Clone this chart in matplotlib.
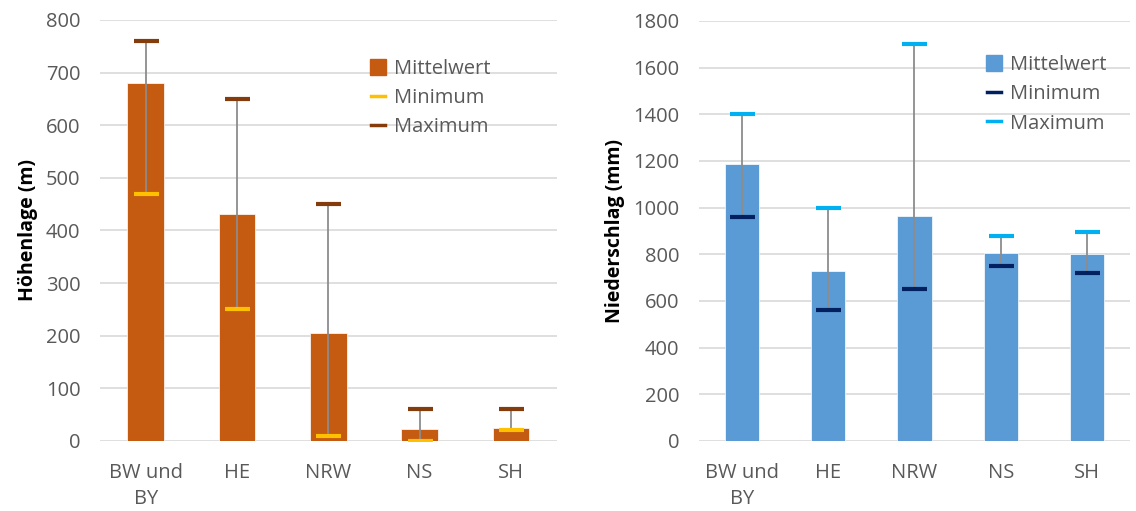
import matplotlib.pyplot as plt
from matplotlib.lines import Line2D
import numpy as np

plt.rcParams['font.family'] = ['Open Sans', 'DejaVu Sans']

regions = ["BW und\nBY", "HE", "NRW", "NS", "SH"]

hoehe_mean = [680, 432, 205, 22, 25]
hoehe_min = [470, 250, 10, 0, 20]
hoehe_max = [760, 650, 450, 60, 60]

nieder_mean = [1185, 730, 965, 805, 800]
nieder_min = [960, 560, 650, 750, 720]
nieder_max = [1400, 1000, 1700, 880, 895]

GRAY = "#595959"


def panel(ax, mean, vmin, vmax, c_mean, c_min, c_max, ylabel, ylim, ystep, leg_pos):
    x = np.arange(len(regions))
    ax.bar(x, mean, width=0.4, color=c_mean, edgecolor="white", linewidth=0.5, zorder=2)
    # min..max range with short caps
    ax.vlines(x, vmin, vmax, color="#8c8c8c", linewidth=1.3, zorder=3)
    ax.plot(x, vmin, linestyle="none", marker="_", markersize=18, mew=3, color=c_min, zorder=4)
    ax.plot(x, vmax, linestyle="none", marker="_", markersize=18, mew=3, color=c_max, zorder=4)

    ax.set_xlim(-0.5, len(regions) - 0.5)
    ax.set_ylim(*ylim)
    ax.set_yticks(np.arange(ylim[0], ylim[1] + 1, ystep))
    ax.set_xticks(x)
    ax.set_xticklabels(regions, linespacing=1.4)
    ax.yaxis.grid(True, color="#d9d9d9", linewidth=1.2, zorder=0)
    ax.set_axisbelow(True)
    for s in ax.spines.values():
        s.set_visible(False)
    ax.tick_params(length=0, labelsize=14.5, colors=GRAY)
    ax.tick_params(axis="y", pad=14)
    ax.tick_params(axis="x", pad=16)
    ax.set_ylabel(ylabel, fontsize=14, fontweight="bold", labelpad=6)

    handles = [
        Line2D([], [], linestyle="none", marker="s", markersize=11, color=c_mean),
        Line2D([], [], color=c_min, linewidth=2.5),
        Line2D([], [], color=c_max, linewidth=2.5),
    ]
    leg = ax.legend(handles, ["Mittelwert", "Minimum", "Maximum"], loc="upper left",
                    bbox_to_anchor=leg_pos, frameon=False, fontsize=14.5,
                    handlelength=0.7, handletextpad=0.45, labelspacing=0.45,
                    borderpad=0, borderaxespad=0)
    for t in leg.get_texts():
        t.set_color(GRAY)


fig = plt.figure(figsize=(11.36, 5.11), dpi=100)
ax1 = fig.add_axes([0.088, 0.137, 0.402, 0.824])
ax2 = fig.add_axes([0.615, 0.137, 0.38, 0.822])

panel(ax1, hoehe_mean, hoehe_min, hoehe_max, "#C55A11", "#FFC000", "#843C0C",
      "Höhenlage (m)", (0, 800), 100, (0.593, 0.908))
panel(ax2, nieder_mean, nieder_min, nieder_max, "#5B9BD5", "#002060", "#00B0F0",
      "Niederschlag (mm)", (0, 1800), 200, (0.667, 0.918))

fig.savefig("out.png", dpi=100)
